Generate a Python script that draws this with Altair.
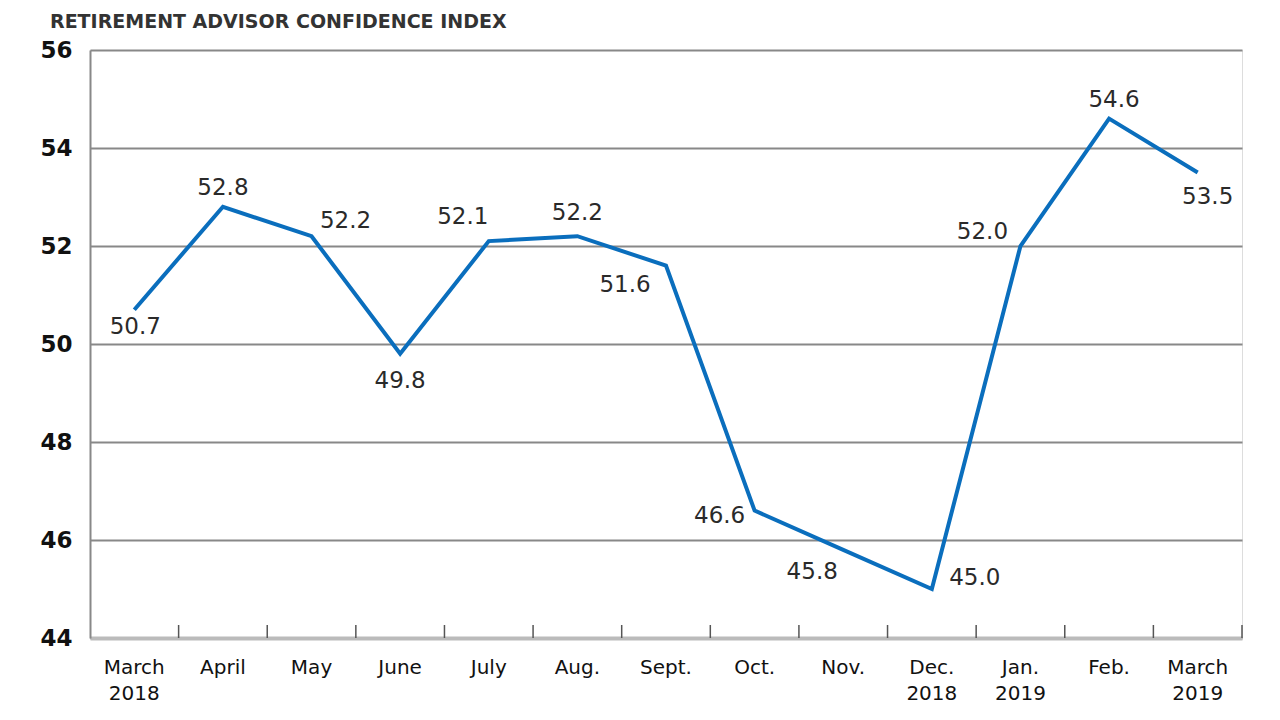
import altair as alt
import pandas as pd

months = ["March\n2018", "April", "May", "June", "July", "Aug.", "Sept.", "Oct.",
          "Nov.", "Dec.\n2018", "Jan.\n2019", "Feb.", "March\n2019"]
values = [50.7, 52.8, 52.2, 49.8, 52.1, 52.2, 51.6, 46.6, 45.8, 45.0, 52.0, 54.6, 53.5]
y_ticks = [44, 46, 48, 50, 52, 54, 56]
title_text = "RETIREMENT ADVISOR CONFIDENCE INDEX"

# label placement offsets (style only): (dx, dy) per month
label_offsets = [(1, 17), (0, -19), (34, -15), (0, 27), (-26, -24), (0, -23), (-41, 19),
                 (-35, 5), (-31, 22), (43, -11), (-38, -14), (5, -19), (10, 24)]

df = pd.DataFrame({"month": months, "value": values,
                   "label": [f"{v:.1f}" for v in values]})

FONT = "DejaVu Sans"
x_enc = alt.X("month:N", sort=months, bandPosition=0.5,
              scale=alt.Scale(type="band", paddingInner=0, paddingOuter=0),
              axis=alt.Axis(title=None, labelExpr="split(datum.label, '\\n')",
                            labelAngle=0, labelFont=FONT, labelFontSize=20,
                            labelColor="#111", labelPadding=19,
                            labelLineHeight=26, labelBaseline="top",
                            ticks=False, domainColor="#bbbbbb", domainWidth=4,
                            grid=False))
y_scale = alt.Scale(domain=[44, 56], nice=False, zero=False)
y_enc = alt.Y("value:Q", scale=y_scale,
              axis=alt.Axis(title=None, values=y_ticks, format="d", labelFont=FONT,
                            labelFontSize=23, labelFontWeight="bold", labelColor="#111",
                            labelPadding=18, ticks=False, domainColor="#888888",
                            domainWidth=2, gridColor="#888888", gridWidth=2,
                            gridOpacity=1))

base = alt.Chart(df)

line = base.mark_line(color="#0A6EBD", strokeWidth=4, strokeJoin="miter").encode(
    x=x_enc, y=y_enc)

ticks = base.mark_rule(color="#555555", strokeWidth=1.5).encode(
    x=alt.X("month:N", sort=months, bandPosition=1),
    y=alt.value(575), y2=alt.value(588))

text_layers = []
for m, (dx, dy) in zip(months, label_offsets):
    text_layers.append(
        base.transform_filter(alt.datum.month == m).mark_text(
            font=FONT, fontSize=23, color="#2a2a2a", dx=dx, dy=dy,
            align="center", baseline="middle").encode(
            x=alt.X("month:N", sort=months, bandPosition=0.5),
            y=alt.Y("value:Q", scale=y_scale), text="label:N"))

title = alt.Chart(pd.DataFrame({"t": [title_text]})).mark_text(
    font=FONT, fontSize=19, fontWeight="bold", color="#333333", align="left",
    baseline="alphabetic").encode(x=alt.value(-40), y=alt.value(-22), text="t:N")

chart = alt.layer(line, ticks, *text_layers, title).properties(
    width=1152, height=588,
    autosize=alt.AutoSizeParams(type="none"),
    padding={"left": 82, "top": 42, "right": 30, "bottom": 74},
).configure_view(stroke=None).configure(background="white")

chart.save("out.html", embed_options={"renderer": "svg", "actions": False})
